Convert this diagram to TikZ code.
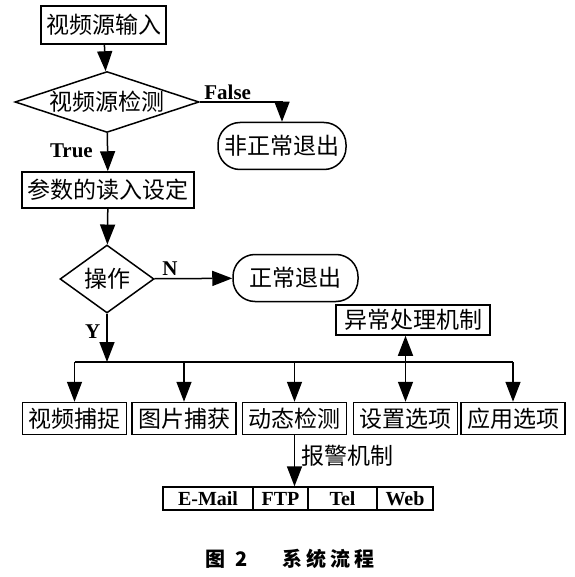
\documentclass[tikz,border=0pt]{standalone}
\usepackage{fontspec}
\setmainfont{Liberation Serif}
\newfontfamily\cjk{Noto Sans CJK SC}
\usetikzlibrary{shapes.geometric,arrows.meta}

\begin{document}
\begin{tikzpicture}[x=1pt,y=-1pt,
  font=\fontsize{23}{26}\selectfont\cjk,
  proc/.style={draw,line width=1.5pt,inner sep=0pt,minimum height=32pt,minimum width=104pt},
  test/.style={draw,diamond,line width=1.5pt,inner sep=0pt},
  term/.style={draw,line width=1.5pt,rounded corners=22pt,inner sep=0pt,minimum height=47pt},
  cell/.style={draw,line width=1.3pt,inner sep=0pt,minimum height=23pt,
    font=\fontsize{20}{22}\selectfont\bfseries},
  arr/.style={-{Triangle[length=20pt,width=15pt]},line width=1.5pt},
  lbl/.style={font=\fontsize{21}{23}\selectfont\bfseries,inner sep=2pt}]
  \useasboundingbox (0,0) rectangle (574,577);
  \node[proc,minimum width=125pt,minimum height=38pt] (src) at (103.5,25) {视频源输入};
  \node[test,minimum width=184pt,minimum height=61pt,aspect=3] (chk) at (107,102) {视频源检测};
  \node[term,minimum width=128pt] (abn) at (282,146) {非正常退出};
  \node[proc,minimum width=172pt,minimum height=36pt] (par) at (108,190) {参数的读入设定};
  \node[test,minimum width=94pt,minimum height=68pt,aspect=1.4] (op) at (107,279) {操作};
  \node[term,minimum width=125pt] (ok) at (295.5,278) {正常退出};
  \node[proc,minimum width=154pt,minimum height=30pt] (exc) at (413,320) {异常处理机制};
  \coordinate (bus) at (107,362);
  \node[proc] (cap) at (74.5,418.5) {视频捕捉};
  \node[proc] (pic) at (184,418.5) {图片捕获};
  \node[proc] (det) at (294.5,418.5) {动态检测};
  \node[proc] (set) at (405.5,418.5) {设置选项};
  \node[proc] (app) at (513,418.5) {应用选项};
  \node[cell,minimum width=90pt] (mail) at (208,498.5) {E-Mail};
  \node[cell,minimum width=55pt] (ftp) at (280.5,498.5) {FTP};
  \node[cell,minimum width=69pt] (tel) at (342.5,498.5) {Tel};
  \node[cell,minimum width=56pt] (web) at (405,498.5) {Web};
  \node[font=\fontsize{20}{22}\selectfont\cjk\bfseries] (cap2) at (290,559)
    {图\hspace{10pt}2\hspace{34pt}系\hspace{4pt}统\hspace{4pt}流\hspace{4pt}程};

  \draw[arr] (src) -- (chk);
  \draw[arr] (chk.east) -| node[pos=0.17,above,lbl]{False} (abn.north);
  \draw[arr] (chk) -- node[pos=0.45,left=12pt,lbl]{True} (par);
  \draw[arr] (par) -- (op);
  \draw[arr] (op) -- node[pos=0.2,above,lbl]{N} (ok);
  \draw[arr] (op) -- node[pos=0.37,left=4pt,lbl]{Y} (bus);
  \draw[line width=1.5pt] (cap.north |- bus) -- (app.north |- bus);
  \foreach \n in {cap,pic,det,app}
    \draw[arr] (\n.north |- bus) -- (\n.north);
  \draw[{Triangle[length=20pt,width=15pt]}-{Triangle[length=20pt,width=15pt]},line width=1.5pt]
    (set.north |- exc.south) -- (set.north);
  \draw[arr] (det.south) -- node[pos=0.4,right=6pt,inner sep=0pt]{报警机制} (det.south |- ftp.north);
\end{tikzpicture}
\end{document}
